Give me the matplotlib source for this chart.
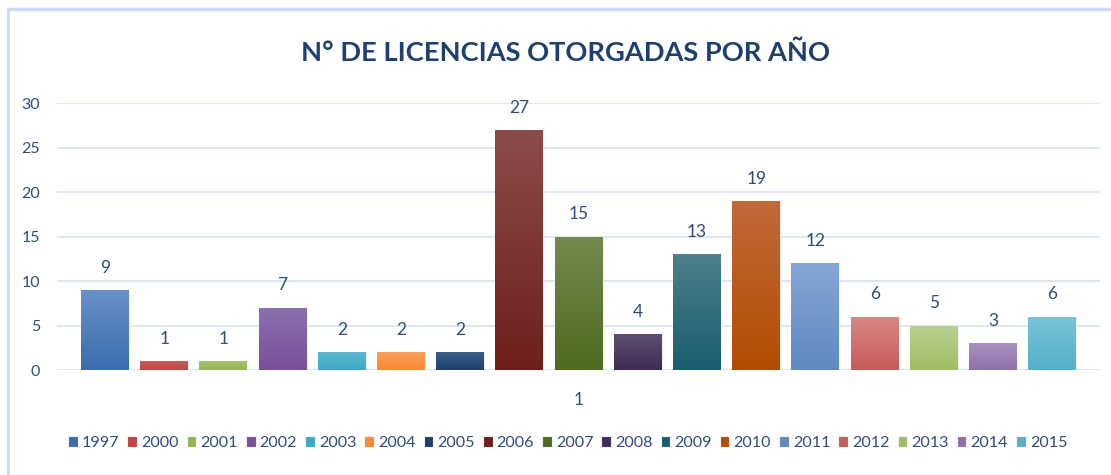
import numpy as np
import matplotlib.pyplot as plt
from matplotlib.colors import LinearSegmentedColormap
from matplotlib.lines import Line2D

plt.rcParams['font.family'] = ['Lato', 'DejaVu Sans']

years = ["1997", "2000", "2001", "2002", "2003", "2004", "2005", "2006", "2007",
         "2008", "2009", "2010", "2011", "2012", "2013", "2014", "2015"]
licencias = [9, 1, 1, 7, 2, 2, 2, 27, 15, 4, 13, 19, 12, 6, 5, 3, 6]

# (top, bottom) gradient colours for every year
top_colors = ["#6a91c9", "#c95e5b", "#a8c46c", "#8b70ac", "#5cb7cf", "#f9a05a",
              "#3b5f8c", "#8b4c4b", "#748a4f", "#5f5071", "#4d7f8b", "#c2693a",
              "#84a6d4", "#d98886", "#b9d191", "#a892c1", "#78c5d9"]
bot_colors = ["#3a6db0", "#bf4643", "#93b652", "#784f9a", "#3ea8c3", "#f48a34",
              "#1e3f6b", "#6e1e1d", "#4e6a20", "#402a57", "#1a5d70", "#b24c00",
              "#5f89c1", "#c65b59", "#a0bd63", "#8d70ad", "#55b0c8"]

text_color = "#2f4b7c"

fig = plt.figure(figsize=(11.11, 4.75), dpi=100)
ax = fig.add_axes([0.0513, 0.221, 0.939, 0.562])

n = len(years)
width = 0.81
offsets = (np.arange(n) - (n - 1) / 2)
ax.set_xlim(offsets[0] - 0.81, offsets[-1] + 0.81)
ax.set_ylim(0, 30)

for i, (yr, v) in enumerate(zip(years, licencias)):
    x = offsets[i]
    cmap = LinearSegmentedColormap.from_list(yr, [bot_colors[i], top_colors[i]])
    bar = ax.bar(x, v, width=width, color=bot_colors[i], label=yr,
                 edgecolor="#f2f2f2", linewidth=0.8, zorder=2)[0]
    grad = np.linspace(1, 0, 64).reshape(-1, 1)
    im = ax.imshow(grad, extent=[x - width / 2, x + width / 2, 0, v],
                   aspect="auto", cmap=cmap, vmin=0, vmax=1, zorder=3)
    im.set_clip_path(bar)
    ax.text(x, v + 1.6, str(v), ha="center", va="bottom", fontsize=12.5,
            color=text_color)

ax.set_aspect("auto")
ax.set_xticks([0])
ax.set_xticklabels(["1"], fontsize=12.5, color=text_color)
ax.tick_params(axis="x", length=0, pad=16)
ax.set_yticks(range(0, 31, 5))
ax.tick_params(axis="y", length=0, pad=12, labelsize=11.5, labelcolor=text_color)
ax.yaxis.grid(True, color="#dde7f3", linewidth=1.4)
ax.set_axisbelow(True)
for s in ax.spines.values():
    s.set_visible(False)

fig.text(0.509, 0.89, "N° DE LICENCIAS OTORGADAS POR AÑO", ha="center",
         va="center", fontsize=19.6, fontweight="bold", color="#1f3f6c")

fig.legend(loc="center", bbox_to_anchor=(0.511, 0.068), ncol=n, frameon=False,
           handlelength=0.6, handleheight=0.7, handletextpad=0.25,
           columnspacing=0.5, fontsize=11.6, labelcolor=text_color)

# light frame around the chart area
fig.add_artist(Line2D([0.0072, 1.0], [0.981, 0.981], transform=fig.transFigure,
                      color="#c9dbf0", linewidth=2.5))
fig.add_artist(Line2D([0.0072, 0.0072], [0.0, 0.981], transform=fig.transFigure,
                      color="#c9dbf0", linewidth=2.0))

fig.savefig("out.png", dpi=100)
